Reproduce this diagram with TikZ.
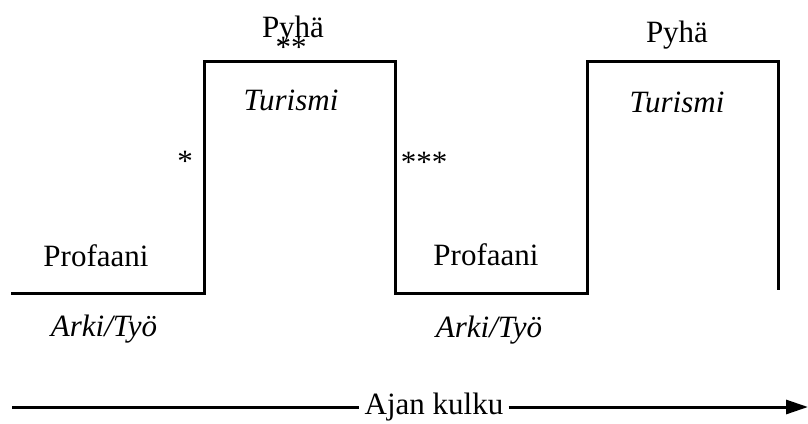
\documentclass[tikz,border=0pt]{standalone}
\usepackage{fontspec}
\setmainfont{Liberation Serif}
\usetikzlibrary{arrows.meta}

\begin{document}
\begin{tikzpicture}[x=1pt,y=1pt,yscale=-1,xscale=1,
  label text/.style={anchor=base,inner sep=0.75pt,font=\fontsize{31}{37}\selectfont},
  side text/.style={label text,font=\fontsize{31}{37}\selectfont\itshape}]
%set diagram left start at 0, and has height of 423
\useasboundingbox (0,0) rectangle (808,423);

%Straight Lines [id:steps] 
\draw [line width=3pt]  (11,293) -- (204,293) -- (204,61) -- (395,61) -- (395,293) -- (587,293) -- (587,61) -- (778,61) -- (778,290) ;

% Text Node
\node [label text] (pyha1) at (293,37) {Pyhä};
% Text Node
\node [label text] (ast2) at (291,57) {**};
% Text Node
\node [side text] (turismi1) at (291,110) {Turismi};
% Text Node
\node [label text] (ast1) at (185,171) {*};
% Text Node
\node [label text] (ast3) at (424,172) {***};
% Text Node
\node [label text] (profaani1) at (96,266) {Profaani};
% Text Node
\node [side text] (arki1) at (104,336) {Arki/Työ};
% Text Node
\node [label text] (profaani2) at (486,265) {Profaani};
% Text Node
\node [side text] (arki2) at (489,337) {Arki/Työ};
% Text Node
\node [label text] (pyha2) at (677,42) {Pyhä};
% Text Node
\node [side text] (turismi2) at (677,112) {Turismi};

% Time axis
\coordinate (axisstart) at (12,407);
\coordinate (axisend) at (808,407);
\node [label text,anchor=center,inner sep=5pt] (kulku) at (434,407) {Ajan kulku};
\draw [line width=3pt] (axisstart) -- (kulku.west);
\draw [line width=3pt,-{Triangle[length=22pt,width=14pt]}] (kulku.east) -- (axisend);

\end{tikzpicture}
\end{document}
